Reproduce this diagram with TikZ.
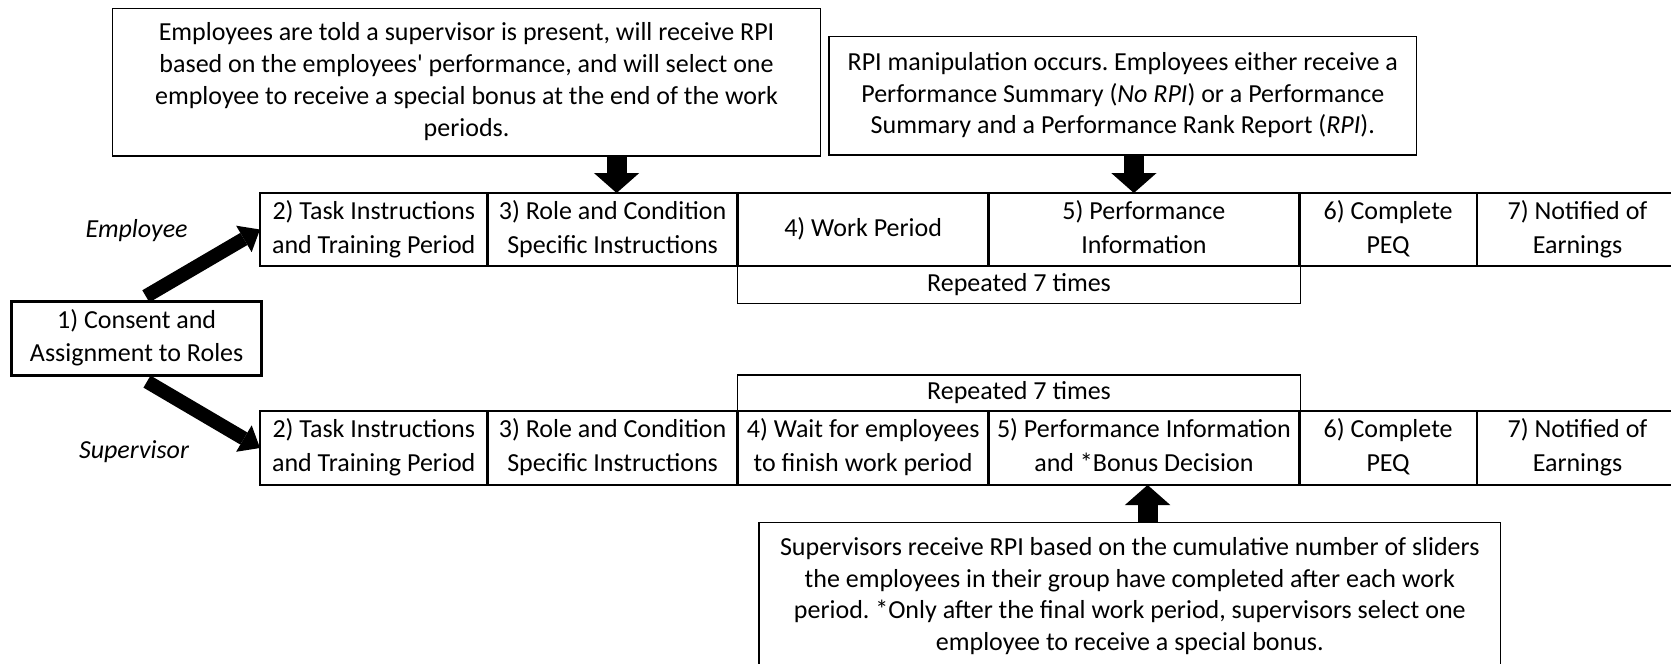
\documentclass[tikz,border=0pt]{standalone}
\usepackage{fontspec}
\setmainfont{Carlito}
\usetikzlibrary{arrows.meta,calc}
\newcommand\pxu{0.75pt}
\frenchspacing

\begin{document}
\begin{tikzpicture}[x=0.75pt,y=-0.75pt,
  every node/.style={inner sep=0pt, outer sep=0pt, align=center},
  cell/.style={draw, line width=2pt, font=\fontsize{19.5}{25.5}\selectfont},
  note/.style={draw, line width=1.1pt, font=\fontsize{19.5}{23.8}\selectfont},
  repbox/.style={draw, line width=1.1pt, font=\fontsize{19.5}{25.5}\selectfont},
  role/.style={font=\fontsize{19.5}{25.5}\selectfont\itshape},
  bigarrow/.style={line width=15pt, -{Triangle[width=34pt,length=15pt,line width=0pt]}},
  diagarrow/.style={line width=10.5pt, -{Triangle[width=23pt,length=14pt,line width=0pt]}},
]
\useasboundingbox (0,0) rectangle (1671,664);
\clip (0,0) rectangle (1671,664);

% explanatory notes
\node[note, minimum width=708.1*\pxu, minimum height=147.7*\pxu] (brief) at (466.55,82.15)
  {\strut Employees are told a supervisor is present, will receive RPI\\
   \strut based on the employees\textquotesingle{} performance, and will select one\\
   \strut employee to receive a special bonus at the end of the work\\
   \strut periods.};
\node[note, minimum width=587.5*\pxu, minimum height=118.3*\pxu] (rpinote) at (1122.75,95.85)
  {\strut RPI manipulation occurs. Employees either receive a\\
   \strut Performance Summary (\textit{No RPI}) or a Performance\\
   \strut Summary and a Performance Rank Report (\textit{RPI}).};
\node[note, minimum width=741.6*\pxu, minimum height=148*\pxu] (supnote) at (1129.8,596.7)
  {\strut Supervisors receive RPI based on the cumulative number of sliders\\
   \strut the employees in their group have completed after each work\\
   \strut period. *Only after the final work period, supervisors select one\\
   \strut employee to receive a special bonus.};

% step 1
\node[cell, font=\fontsize{19.5}{25}\selectfont, minimum width=249.7*\pxu, minimum height=73.8*\pxu] (consent) at (136.65,338.6)
  {\strut 1) Consent and\\ \strut Assignment to Roles};

% employee sequence
\node[cell, minimum width=227.5*\pxu, minimum height=73*\pxu] (e2) at (373.75,229.5)
  {\strut 2) Task Instructions\\ \strut and Training Period};
\node[cell, minimum width=250.2*\pxu, minimum height=73*\pxu] (e3) at (612.6,229.5)
  {\strut 3) Role and Condition\\ \strut Specific Instructions};
\node[cell, minimum width=250.9*\pxu, minimum height=73*\pxu] (e4) at (863.15,229.5)
  {\strut 4) Work Period};
\node[cell, minimum width=310.6*\pxu, minimum height=73*\pxu] (e5) at (1143.9,229.5)
  {\strut 5) Performance\\ \strut Information};
\node[cell, minimum width=177.8*\pxu, minimum height=73*\pxu] (e6) at (1388.1,229.5)
  {\strut 6) Complete\\ \strut PEQ};
\node[cell, minimum width=201*\pxu, minimum height=73*\pxu] (e7) at (1577.5,229.5)
  {\strut 7) Notified of\\ \strut Earnings};
\node[repbox, minimum width=562.6*\pxu, minimum height=37.3*\pxu] (erep) at (1019,284.65)
  {\strut Repeated 7 times};

% supervisor sequence
\node[cell, minimum width=227.5*\pxu, minimum height=74*\pxu] (s2) at (373.75,448)
  {\strut 2) Task Instructions\\ \strut and Training Period};
\node[cell, minimum width=250.2*\pxu, minimum height=74*\pxu] (s3) at (612.6,448)
  {\strut 3) Role and Condition\\ \strut Specific Instructions};
\node[cell, minimum width=250.9*\pxu, minimum height=74*\pxu] (s4) at (863.15,448)
  {\strut 4) Wait for employees\\ \strut to finish work period};
\node[cell, minimum width=310.6*\pxu, minimum height=74*\pxu] (s5) at (1143.9,448)
  {\strut 5) Performance Information\\ \strut and *Bonus Decision};
\node[cell, minimum width=177.8*\pxu, minimum height=74*\pxu] (s6) at (1388.1,448)
  {\strut 6) Complete\\ \strut PEQ};
\node[cell, minimum width=201*\pxu, minimum height=74*\pxu] (s7) at (1577.5,448)
  {\strut 7) Notified of\\ \strut Earnings};
\node[repbox, minimum width=562.6*\pxu, minimum height=36*\pxu] (srep) at (1019,393)
  {\strut Repeated 7 times};

% role labels
\node[role, anchor=base] (emplabel) at (136.6,237.3) {Employee};
\node[role, anchor=base] (suplabel) at (134,458.3) {Supervisor};

% arrows
\draw[diagarrow, shorten <=8pt] (consent.north) -- (e2.west);
\draw[diagarrow, shorten <=9pt] (consent.south) -- (s2.west);
\draw[bigarrow] ($(e3.north |- brief.south)+(4,0)$) -- ($(e3.north)+(4,0)$);
\draw[bigarrow] ($(e5.north |- rpinote.south)+(-10,0)$) -- ($(e5.north)+(-10,0)$);
\draw[bigarrow] ($(s5.south |- supnote.north)+(3.7,0)$) -- ($(s5.south)+(3.7,0)$);
\end{tikzpicture}
\end{document}
